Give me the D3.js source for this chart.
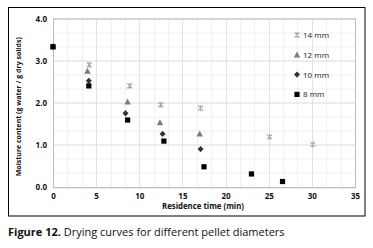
<!DOCTYPE html>
<html>
<head>
<meta charset="utf-8">
<script src="https://cdn.jsdelivr.net/npm/d3@7"></script>
<style>
  body { margin: 0; background: #fff; }
  svg text { font-family: "Open Sans", "DejaVu Sans", sans-serif; }
</style>
</head>
<body>
<div id="chart"></div>
<script>
// values
const seriesNames = ['14 mm', '12 mm', '10 mm', '8 mm'];
const time14 = [0, 4.2, 8.9, 12.5, 17.1, 25.1, 30.1];
const moist14 = [3.33, 2.9, 2.4, 1.95, 1.87, 1.19, 1.01];
const time12 = [0, 4.0, 8.65, 12.4, 17.0];
const moist12 = [3.33, 2.75, 2.02, 1.53, 1.26];
const time10 = [0, 4.15, 8.4, 12.7, 17.1];
const moist10 = [3.33, 2.52, 1.75, 1.26, 0.9];
const time8 = [0, 4.15, 8.65, 12.85, 17.5, 23.0, 26.6];
const moist8 = [3.33, 2.4, 1.59, 1.09, 0.48, 0.31, 0.13];
const xTicks = [0, 5, 10, 15, 20, 25, 30, 35];
const yTicks = [0, 1, 2, 3, 4];

class DryingChart {
  constructor(_config) {
    this.config = {
      parentElement: _config.parentElement,
      containerWidth: 373,
      containerHeight: 248,
      margin: {top: 18.5, right: 18, bottom: 61, left: 53}
    };
    this.series = [
      {name: seriesNames[0], xs: time14, ys: moist14, shape: 'star', color: '#a9a9a9'},
      {name: seriesNames[1], xs: time12, ys: moist12, shape: 'tri', color: '#7a7a7a'},
      {name: seriesNames[2], xs: time10, ys: moist10, shape: 'dia', color: '#333333'},
      {name: seriesNames[3], xs: time8, ys: moist8, shape: 'sq', color: '#000000'}
    ];
    this.initVis();
  }

  initVis() {
    let vis = this;
    const m = vis.config.margin;
    vis.width = vis.config.containerWidth - m.left - m.right;
    vis.height = vis.config.containerHeight - m.top - m.bottom;

    vis.svg = d3.select(vis.config.parentElement).append('svg')
      .attr('width', vis.config.containerWidth)
      .attr('height', vis.config.containerHeight);

    // outer frame
    vis.svg.append('rect')
      .attr('x', 8.5).attr('y', 7.5)
      .attr('width', 356.5).attr('height', 208.5)
      .attr('fill', 'none').attr('stroke', '#000').attr('stroke-width', 1);

    vis.chart = vis.svg.append('g')
      .attr('transform', `translate(${m.left},${m.top})`);

    vis.xScale = d3.scaleLinear().domain([0, 35]).range([0, vis.width]);
    vis.yScale = d3.scaleLinear().domain([0, 4]).range([vis.height, 0]);

    // minor grid
    const xMinor = d3.range(0, 35.01, 5 / 3);
    const yMinor = d3.range(0, 4.01, 1 / 3);
    vis.chart.append('g').selectAll('line').data(xMinor).join('line')
      .attr('x1', d => Math.round(vis.xScale(d)) + 0.5).attr('x2', d => Math.round(vis.xScale(d)) + 0.5)
      .attr('y1', 0).attr('y2', vis.height)
      .attr('stroke', '#f0f0f0');
    vis.chart.append('g').selectAll('line').data(yMinor).join('line')
      .attr('y1', d => Math.round(vis.yScale(d)) + 0.5).attr('y2', d => Math.round(vis.yScale(d)) + 0.5)
      .attr('x1', 0).attr('x2', vis.width)
      .attr('stroke', '#f0f0f0');
    // major grid
    vis.chart.append('g').selectAll('line').data(xTicks).join('line')
      .attr('x1', d => Math.round(vis.xScale(d)) + 0.5).attr('x2', d => Math.round(vis.xScale(d)) + 0.5)
      .attr('y1', 0).attr('y2', vis.height)
      .attr('stroke', '#e2e2e2');
    vis.chart.append('g').selectAll('line').data(yTicks).join('line')
      .attr('y1', d => Math.round(vis.yScale(d)) + 0.5).attr('y2', d => Math.round(vis.yScale(d)) + 0.5)
      .attr('x1', 0).attr('x2', vis.width)
      .attr('stroke', '#e2e2e2');

    // plot border
    vis.chart.append('rect')
      .attr('x', 0.5).attr('y', 0.5)
      .attr('width', vis.width).attr('height', vis.height)
      .attr('fill', 'none').attr('stroke', '#bdbdbd');

    // axes (labels only)
    vis.xAxis = d3.axisBottom(vis.xScale).tickValues(xTicks).tickSize(0).tickPadding(6)
      .tickFormat(d3.format('d'));
    vis.yAxis = d3.axisLeft(vis.yScale).tickValues(yTicks).tickSize(0).tickPadding(6)
      .tickFormat(d3.format('.1f'));

    vis.xAxisG = vis.chart.append('g').attr('class', 'axis x-axis')
      .attr('transform', `translate(0,${vis.height})`);
    vis.yAxisG = vis.chart.append('g').attr('class', 'axis y-axis');

    // axis titles
    vis.svg.append('text')
      .attr('transform', `translate(21,${m.top + vis.height / 2 + 4}) rotate(-90)`)
      .attr('text-anchor', 'middle')
      .attr('font-size', 7.5).attr('font-weight', 'bold').attr('fill', '#111')
      .attr('textLength', 139).attr('lengthAdjust', 'spacingAndGlyphs')
      .text('Moisture content (g water / g dry solids)');

    vis.svg.append('text')
      .attr('x', 203).attr('y', 209)
      .attr('text-anchor', 'middle')
      .attr('font-size', 8).attr('font-weight', 'bold').attr('fill', '#111')
      .attr('textLength', 82).attr('lengthAdjust', 'spacingAndGlyphs')
      .text('Residence time (min)');

    // caption
    const cap = vis.svg.append('text').attr('x', 8).attr('y', 236)
      .attr('font-size', 11).attr('fill', '#111');
    cap.append('tspan').attr('font-weight', 'bold').text('Figure 12.');
    cap.append('tspan').text(' Drying curves for different pellet diameters');

    vis.renderVis();
  }

  marker(sel, shape, color) {
    if (shape === 'sq') {
      sel.append('rect').attr('x', -2.6).attr('y', -2.6).attr('width', 5.2).attr('height', 5.2).attr('fill', color);
    } else if (shape === 'dia') {
      sel.append('path').attr('d', 'M0,-3.2L3,0L0,3.2L-3,0Z').attr('fill', color);
    } else if (shape === 'tri') {
      sel.append('path').attr('d', 'M0,-3.4L3.2,2.6L-3.2,2.6Z').attr('fill', color);
    } else {
      sel.append('path').attr('d', 'M-2.5,-2.5L2.5,2.5M-2.5,2.5L2.5,-2.5M0,-3L0,3')
        .attr('stroke', color).attr('stroke-width', 1.1).attr('fill', 'none');
    }
  }

  renderVis() {
    let vis = this;

    vis.xAxisG.call(vis.xAxis);
    vis.yAxisG.call(vis.yAxis);
    vis.chart.selectAll('.axis path.domain').remove();
    vis.chart.selectAll('.axis text')
      .attr('font-size', 8).attr('font-weight', 'bold').attr('fill', '#111');

    vis.series.forEach(s => {
      const pts = s.xs.map((x, i) => ({x: x, y: s.ys[i]}));
      const g = vis.chart.append('g').attr('class', 'series');
      g.selectAll('g').data(pts).join('g')
        .attr('transform', d => `translate(${vis.xScale(d.x)},${vis.yScale(d.y)})`)
        .each(function() { vis.marker(d3.select(this), s.shape, s.color); });
    });

    // legend
    const legend = vis.svg.append('g').attr('transform', 'translate(297,35)');
    const rows = legend.selectAll('g').data(vis.series).join('g')
      .attr('transform', (d, i) => `translate(0,${i * 19.8})`);
    rows.each(function(d) { vis.marker(d3.select(this), d.shape, d.color); });
    rows.append('text')
      .attr('x', 6).attr('y', 3)
      .attr('font-size', 8).attr('fill', '#222')
      .text(d => d.name);
  }
}

new DryingChart({parentElement: '#chart'});
</script>
</body>
</html>
